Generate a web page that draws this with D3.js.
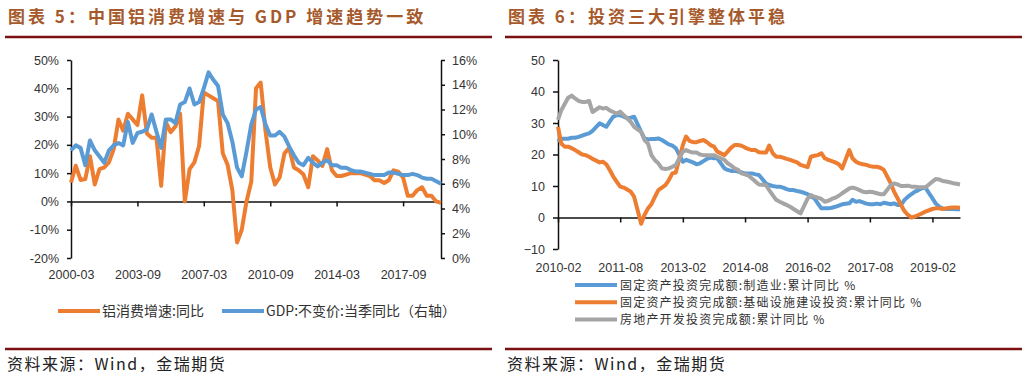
<!DOCTYPE html>
<html>
<head>
<meta charset="utf-8">
<script src="https://cdn.jsdelivr.net/npm/d3@7"></script>
<style>
  body { margin: 0; background: #fff; }
  .axis text { font-family: "Liberation Sans", Arial, sans-serif; font-size: 12.5px; fill: #333; }
  .axis path, .axis line { stroke: #111; stroke-width: 1.5px; }
  .cn { font-family: "Noto Sans CJK SC", sans-serif; }
</style>
</head>
<body>
<div id="chart"></div>
<script>
// ---- left panel data: quarterly, 2000-03 .. 2019-09 ----
var aluGrowth = [6.7, 12.6, 7.6, 7.9, 16, 6, 11.4, 12, 13.8, 18.5,
  29, 25, 31, 29, 27, 37.5, 24, 22.5, 22.5, 5.5,
  28, 24.5, 26.5, 31, 0, 11.4, 13.8, 19.6, 38.5, 37.5,
  36.5, 35.5, 17, 13, 4, -14.5, -10, 0, 7, 40,
  42, 25, 12, 6, 8.5, 17, 19, 12, 11, 9.5,
  5, 16, 14.5, 12.5, 18.5, 11, 9, 9, 9.5, 10,
  10, 10, 9.5, 9, 7.5, 7.5, 6.5, 7.5, 11, 10.5,
  8.5, 2, 2, 4, 5, 2, 2, 0, -0.5];
var gdpGrowth = [8.7, 9.1, 8.9, 7.5, 9.5, 8.7, 8.2, 7.7, 8.7, 9.1,
  9.3, 9.1, 11, 9.3, 10.1, 10.2, 10.4, 11.6, 10.2, 8.9,
  11.2, 11.2, 10.9, 12.4, 12.6, 13.7, 12.4, 12.6, 13.7, 15,
  14.4, 13.9, 11.6, 10.9, 9.4, 7.3, 6.6, 8.6, 10.8, 12,
  12.2, 10.8, 9.9, 9.9, 10.2, 9.8, 9.0, 8.3, 7.7, 7.5,
  8.1, 7.7, 7.4, 7.7, 7.9, 7.5, 7.5, 7.3, 7.3, 7.1,
  7.0, 7.0, 6.9, 6.8, 6.7, 6.7, 6.7, 6.9, 6.9, 6.8,
  6.7, 6.7, 6.8, 6.7, 6.5, 6.4, 6.4, 6.2, 6.0];
var leftXTicks = ['2000-03', '2003-09', '2007-03', '2010-09', '2014-03', '2017-09'];
var leftYTicks = [-20, -10, 0, 10, 20, 30, 40, 50];
var rightYTicks = [0, 2, 4, 6, 8, 10, 12, 14, 16];

// ---- right panel data: monthly (no January), 2010-02 .. 2019-10 ----
var mfgInvest = [24, 25, 25, 25, 25.3, 25.3, 25.6, 26, 26.4, 26.7, 27.5,
  29.9, 29.4, 28.8, 30.4, 32, 32.5, 32.5, 32, 31.5, 31.7, 32,
  27.2, 25.1, 24.8, 24.9, 24.9, 25.1, 24.6, 23.9, 23.2, 22.8, 22,
  17.7, 18.3, 17.9, 17.5, 16.9, 17.2, 17.9, 18.6, 19, 18.8, 18.8,
  15.6, 15.1, 14.8, 14.8, 14.6, 14.3, 14, 14, 14, 13.7, 13.5,
  10.8, 10.3, 10, 9.8, 9.8, 9.5, 9, 8.7, 8.7, 8.4, 8.2,
  7.4, 6.6, 6.1, 4.5, 2.9, 2.9, 2.9, 3.1, 3.4, 3.8, 4.2,
  4.5, 5.6, 5, 5.2, 4.8, 4.4, 4.2, 4.2, 4.4, 4.2, 4.7,
  4.2, 4.5, 4, 4, 5.6, 6.6, 7.4, 8.2, 8.7, 9.3, 9.5,
  6.1, 4.5, 3.4, 2.9, 2.7, 2.7, 2.7, 2.6, 2.6];
var infraInvest = [28.8, 23.5, 22.5, 22.5, 22, 21.4, 20.7, 20, 19.8, 19.3, 18.6,
  17.5, 17.7, 16.9, 15.1, 13, 11.4, 9.8, 9.5, 8.9, 8.2, 6.6,
  -2, 0.8, 2.9, 4.2, 6.6, 8.7, 9.5, 10.3, 11.9, 14, 14.3,
  23, 25.7, 24.3, 23.9, 23.9, 24.3, 24.6, 23.9, 23, 22.5, 20.9,
  19.8, 20.9, 22.2, 23, 23, 22.8, 22.2, 21.7, 21.4, 21.4, 20.7,
  20.6, 22.8, 20.4, 19.3, 19.3, 19, 18.6, 18.3, 17.9, 17.5, 16.7,
  16, 19.3, 19.6, 19.8, 20.4, 18.8, 18.3, 17.9, 17.5, 16.9, 15.6,
  21.4, 18.8, 17.7, 17.2, 16.9, 16.7, 16.3, 16.1, 16.1, 15.8, 15.1,
  10.8, 8.2, 6.1, 4, 2, 0.8, 0, 0.3, 0.8, 1.3, 1.9,
  2.7, 2.9, 2.9, 2.7, 2.9, 3.1, 3.2, 3.2, 3.1];
var realEstateInvest = [31, 34, 36, 38, 38.7, 37.8, 37, 36.7, 36.7, 37, 33.5,
  35, 34.6, 34.8, 34, 33.5, 33, 33.6, 32.5, 31.5, 30.4, 28.8,
  27.2, 24.6, 23.5, 19.8, 18.2, 17.2, 15.6, 15.4, 15.6, 16.1, 16.7,
  20.9, 21.4, 20.9, 20.6, 20.6, 20, 19.8, 19.8, 19.8, 19.8, 19.3,
  18.3, 17.2, 16.5, 15.6, 15.1, 14, 13.7, 13.3, 12.4, 11.4, 10.5,
  10.3, 8.7, 7.1, 5.6, 5, 4.5, 4, 3.4, 2.7, 2, 1.3,
  6, 7.1, 6.6, 6.3, 5.9, 5, 5.3, 5.9, 6.3, 6.9, 7.7,
  9.2, 9.5, 9.2, 8.7, 8.2, 8, 8.2, 8, 7.7, 7.4, 7.4,
  10.3, 10.8, 10.5, 10, 10, 10.1, 9.8, 9.8, 9.6, 9.6, 9.5,
  11.4, 12.2, 12.1, 11.6, 11.4, 11.2, 10.9, 10.7, 10.5];
var invXTicks = ['2010-02', '2011-08', '2013-02', '2014-08', '2016-02', '2017-08', '2019-02'];
var invYTicks = [-10, 0, 10, 20, 30, 40, 50];

var parseMonth = d3.timeParse('%Y-%m');
var orange = '#ED7D31', blue = '#5B9BD5', gray = '#A5A5A5';
var titleColor = '#a65a2c', ruleColor = '#7a1010';

// quarterly / monthly date categories
var quarters = d3.timeMonth.range(parseMonth('2000-03'), parseMonth('2019-10'), 3);
var months = d3.timeMonth.range(parseMonth('2010-02'), parseMonth('2019-11'))
  .filter(d => d.getMonth() !== 0);

var svg = d3.select('#chart').append('svg')
  .attr('width', 1026)
  .attr('height', 375);

// ---- titles, rules and footers for both panels ----
var panels = [
  {x0: 5, x1: 492, title: '图表 5：中国铝消费增速与 GDP 增速趋势一致'},
  {x0: 505, x1: 1022, title: '图表 6：投资三大引擎整体平稳'}
];
panels.forEach(function(p) {
  svg.append('text')
    .attr('class', 'cn')
    .attr('x', p.x0 + 3)
    .attr('y', 23)
    .attr('font-size', '17px')
    .attr('font-weight', 'bold')
    .attr('letter-spacing', '3px')
    .attr('fill', titleColor)
    .text(p.title);
  [37, 349].forEach(function(y) {
    svg.append('line')
      .attr('x1', p.x0).attr('x2', p.x1)
      .attr('y1', y).attr('y2', y)
      .attr('stroke', ruleColor)
      .attr('stroke-width', 2.5);
  });
  svg.append('text')
    .attr('class', 'cn')
    .attr('x', p.x0 + 2)
    .attr('y', 370)
    .attr('font-size', '16px')
    .attr('letter-spacing', '1.5px')
    .attr('fill', '#222')
    .text('资料来源：Wind，金瑞期货');
});

// ---- left chart ----
var xQ = d3.scaleTime()
  .domain([quarters[0], quarters[quarters.length - 1]])
  .range([71, 441]);
var yL = d3.scaleLinear().domain([-20, 50]).range([258, 60]);
var yR = d3.scaleLinear().domain([0, 16]).range([258, 60]);

var left = svg.append('g');

// zero line with ticks
left.append('g')
  .attr('class', 'axis')
  .attr('transform', `translate(0, ${yL(0)})`)
  .call(d3.axisBottom(xQ).tickValues(leftXTicks.map(parseMonth)).tickSize(5).tickSizeOuter(0).tickFormat(''));
// date labels at the bottom
left.append('g')
  .attr('class', 'axis')
  .attr('transform', `translate(0, ${yL(-20)})`)
  .call(d3.axisBottom(xQ).tickValues(leftXTicks.map(parseMonth)).tickSize(0).tickPadding(12).tickFormat(d3.timeFormat('%Y-%m')))
  .call(g => g.select('.domain').remove());

left.append('g')
  .attr('class', 'axis')
  .attr('transform', 'translate(71, 0)')
  .call(d3.axisLeft(yL).tickValues(leftYTicks).tickSize(4).tickSizeOuter(0).tickPadding(8).tickFormat(d => d + '%'));
left.append('g')
  .attr('class', 'axis')
  .attr('transform', 'translate(441, 0)')
  .call(d3.axisRight(yR).tickValues(rightYTicks).tickSize(4).tickSizeOuter(0).tickPadding(7).tickFormat(d => d + '%'));

var lineAlu = d3.line().x((d, i) => xQ(quarters[i])).y(d => yL(d));
var lineGdp = d3.line().x((d, i) => xQ(quarters[i])).y(d => yR(d));
left.append('path').datum(aluGrowth)
  .attr('d', lineAlu)
  .attr('fill', 'none').attr('stroke', orange).attr('stroke-width', 4).attr('stroke-linejoin', 'round');
left.append('path').datum(gdpGrowth)
  .attr('d', lineGdp)
  .attr('fill', 'none').attr('stroke', blue).attr('stroke-width', 4).attr('stroke-linejoin', 'round');

// left legend
var leftLegend = [
  {name: '铝消费增速:同比', color: orange, x: 58},
  {name: 'GDP:不变价:当季同比（右轴）', color: blue, x: 222}
];
leftLegend.forEach(function(l) {
  left.append('line')
    .attr('x1', l.x).attr('x2', l.x + 42)
    .attr('y1', 311).attr('y2', 311)
    .attr('stroke', l.color).attr('stroke-width', 4);
  left.append('text')
    .attr('class', 'cn')
    .attr('x', l.x + 44)
    .attr('y', 316)
    .attr('font-size', '14px')
    .attr('fill', '#333')
    .text(l.name);
});

// ---- right chart ----
var xM = d3.scaleTime()
  .domain([months[0], months[months.length - 1]])
  .range([558, 960]);
var yI = d3.scaleLinear().domain([-10, 50]).range([249, 60]);

var right = svg.append('g');
right.append('g')
  .attr('class', 'axis')
  .attr('transform', `translate(0, ${yI(0)})`)
  .call(d3.axisBottom(xM).tickValues(invXTicks.map(parseMonth)).tickSize(5).tickSizeOuter(0).tickFormat(''));
right.append('g')
  .attr('class', 'axis')
  .attr('transform', `translate(0, ${yI(-10)})`)
  .call(d3.axisBottom(xM).tickValues(invXTicks.map(parseMonth)).tickSize(0).tickPadding(14).tickFormat(d3.timeFormat('%Y-%m')))
  .call(g => g.select('.domain').remove());
right.append('g')
  .attr('class', 'axis')
  .attr('transform', 'translate(558, 0)')
  .call(d3.axisLeft(yI).tickValues(invYTicks).tickSize(5).tickSizeOuter(0).tickPadding(8));

var series = [
  {name: '固定资产投资完成额:制造业:累计同比 %', values: mfgInvest, color: blue},
  {name: '固定资产投资完成额:基础设施建设投资:累计同比 %', values: infraInvest, color: orange},
  {name: '房地产开发投资完成额:累计同比 %', values: realEstateInvest, color: gray}
];
var lineInv = d3.line().x((d, i) => xM(months[i])).y(d => yI(d));
series.forEach(function(s, k) {
  right.append('path').datum(s.values)
    .attr('d', lineInv)
    .attr('fill', 'none').attr('stroke', s.color).attr('stroke-width', 4).attr('stroke-linejoin', 'round');
  // legend rows
  var ly = 285 + k * 17.3;
  right.append('line')
    .attr('x1', 575).attr('x2', 617)
    .attr('y1', ly).attr('y2', ly)
    .attr('stroke', s.color).attr('stroke-width', 4);
  right.append('text')
    .attr('class', 'cn')
    .attr('x', 620)
    .attr('y', ly + 4.5)
    .attr('font-size', '12px')
    .attr('letter-spacing', '1.2px')
    .attr('fill', '#333')
    .text(s.name);
});
</script>
</body>
</html>
